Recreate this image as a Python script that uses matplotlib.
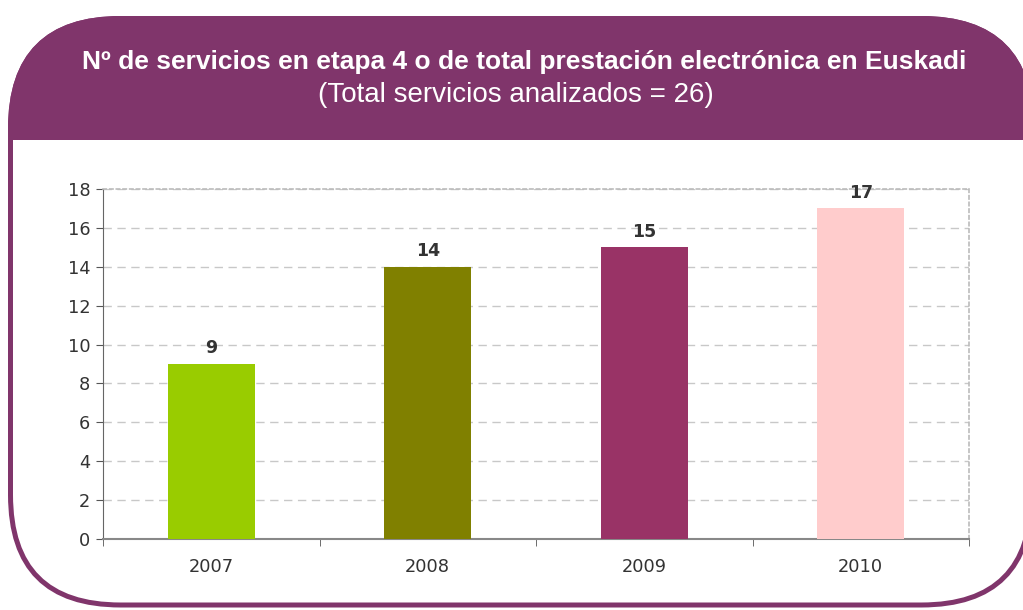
import matplotlib
matplotlib.use("Agg")
import matplotlib.pyplot as plt
from matplotlib.patches import FancyBboxPatch, Rectangle

categories = ["2007", "2008", "2009", "2010"]
values = [9, 14, 15, 17]
bar_colors = ["#99CC00", "#808000", "#993366", "#FFCCCC"]
yticks = [0, 2, 4, 6, 8, 10, 12, 14, 16, 18]
title_main = "Nº de servicios en etapa 4 o de total prestación electrónica en Euskadi"
title_sub = "(Total servicios analizados = 26)"

plt.rcParams["font.family"] = ["DejaVu Sans"]
PURPLE = "#80356B"
W, H = 1023, 610
fig = plt.figure(figsize=(W / 100, H / 100), dpi=100)

# background frame
bg = fig.add_axes([0, 0, 1, 1])
bg.set_xlim(0, W)
bg.set_ylim(H, 0)
bg.axis("off")
box = dict(boxstyle="round,pad=0,rounding_size=110")
frame = FancyBboxPatch((10.5, 18.5), 1021, 586.5, facecolor="white", edgecolor=PURPLE,
                       linewidth=3.6, **box)
bg.add_patch(frame)
header = FancyBboxPatch((10.5, 18.5), 1021, 586.5, facecolor=PURPLE, edgecolor=PURPLE,
                        linewidth=3.6, **box)
bg.add_patch(header)
clip = Rectangle((0, 0), W, 140, transform=bg.transData)
header.set_clip_path(clip)

fig.text(524 / W, 1 - 62 / H, title_main, ha="center", va="center", color="white",
         fontsize=19, fontweight="bold", family="Liberation Sans")
fig.text(516 / W, 1 - 95 / H, title_sub, ha="center", va="center", color="white",
         fontsize=20, family="Liberation Sans")

# chart
left, right, top, bottom = 103, 969, 189, 539
ax = fig.add_axes([left / W, 1 - bottom / H, (right - left) / W, (bottom - top) / H])
x = list(range(len(categories)))
ax.bar(x, values, width=0.4, color=bar_colors, zorder=3)
for xi, v in zip(x, values):
    ax.text(xi, v + 0.35, str(v), ha="center", va="bottom", fontsize=12.5,
            fontweight="bold", color="#333333", zorder=4)
ax.set_xlim(-0.5, 3.5)
ax.set_ylim(0, 18)
ax.set_yticks(yticks)
ax.set_yticklabels([str(t) for t in yticks], fontsize=12.8, color="#333333")
ax.set_xticks(x)
ax.set_xticklabels(categories, fontsize=12.8, color="#333333")
ax.tick_params(axis="x", length=0, pad=14)
ax.set_xticks([-0.5, 0.5, 1.5, 2.5, 3.5], minor=True)
ax.tick_params(axis="x", which="minor", length=5, color="#555555", direction="out")
ax.tick_params(axis="y", length=5, color="#555555", direction="out", pad=4)
ax.grid(axis="y", linestyle=(0, (6, 4)), color="#C8C8C8", linewidth=1, zorder=1)
ax.set_axisbelow(True)
for s in ["top", "right"]:
    ax.spines[s].set_color("#BBBBBB")
    ax.spines[s].set_linestyle((0, (2, 2)))
    ax.spines[s].set_linewidth(1.2)
ax.spines["left"].set_color("#666666")
ax.spines["bottom"].set_color("#888888")
ax.spines["bottom"].set_linewidth(1.5)
ax.set_facecolor("none")

fig.savefig("out.png", dpi=100)
